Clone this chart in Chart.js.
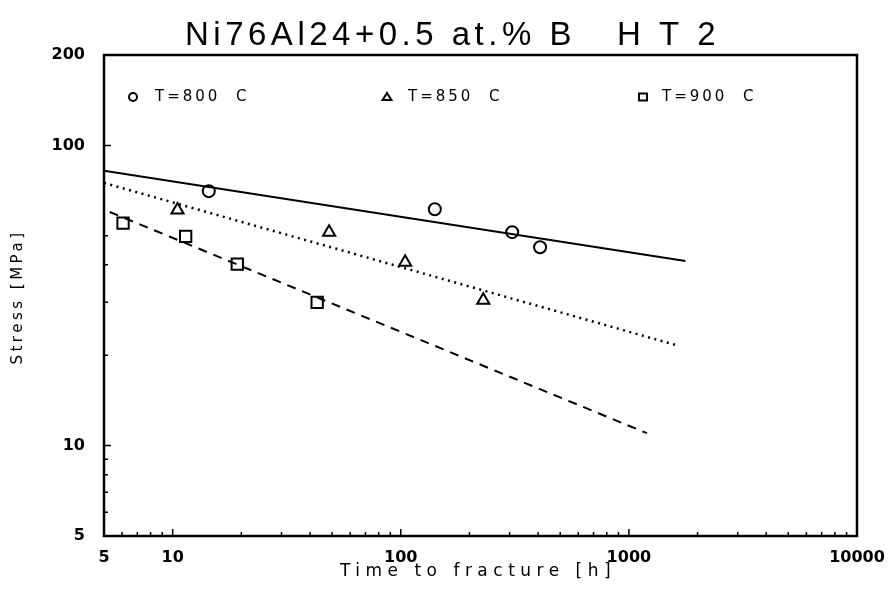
<!DOCTYPE html>
<html>
<head>
<meta charset="utf-8">
<script src="https://cdn.jsdelivr.net/npm/chart.js@4/dist/chart.umd.min.js"></script>
<style>
html, body { margin: 0; padding: 0; background: #fff; }
#wrap { width: 895px; height: 595px; }
</style>
</head>
<body>
<div id="wrap"><canvas id="chart" width="895" height="595"></canvas></div>
<script>
// Textos
const chartTitle = 'Ni76Al24+0.5 at.% B   H T 2';
const xTitle = 'Time to fracture [h]';
const yTitle = 'Stress [MPa]';
const seriesLabels = ['T=800  C', 'T=850  C', 'T=900  C'];

// Pontos medidos (tempo [h], tensao [MPa])
const time800 = [14.4, 141, 308, 408];
const stress800 = [70.4, 61.3, 51.4, 45.8];
const time850 = [10.5, 48.5, 104.5, 230];
const stress850 = [60.9, 51.4, 40.8, 30.5];
const time900 = [6.06, 11.4, 19.2, 43];
const stress900 = [55.1, 49.8, 40.2, 30.0];

// Retas ajustadas (extremos)
const fitTime800 = [5, 1770];
const fitStress800 = [82.3, 41.2];
const fitTime850 = [5, 1650];
const fitStress850 = [75, 21.5];
const fitTime900 = [5.3, 1200];
const fitStress900 = [60, 11];

// Escalas
const xTickLabels = [5, 10, 100, 1000, 10000];
const yTickLabels = [5, 10, 100, 200];
const xMajorTicks = [10, 100, 1000];
const xMinorTicks = [6, 7, 8, 9, 20, 30, 40, 50, 60, 70, 80, 90,
    200, 300, 400, 500, 600, 700, 800, 900,
    2000, 3000, 4000, 5000, 6000, 7000, 8000, 9000];
const yMajorTicks = [10, 100];
const yMinorTicks = [6, 7, 8, 9, 20, 30, 40, 50];

const toPts = (xs, ys) => xs.map((x, i) => ({ x: x, y: ys[i] }));

const markerSet = (label, xs, ys, style, radius) => ({
    label: label,
    data: toPts(xs, ys),
    showLine: false,
    pointStyle: style,
    pointRadius: radius,
    pointBorderWidth: 2,
    pointBorderColor: '#000',
    pointBackgroundColor: '#fff'
});

const fitSet = (xs, ys, dash, width) => ({
    data: toPts(xs, ys),
    showLine: true,
    borderColor: '#000',
    borderWidth: width,
    borderDash: dash,
    pointRadius: 0,
    fill: false
});

function drawMarker(ctx, style, x, y, r) {
    ctx.beginPath();
    if (style === 'circle') {
        ctx.arc(x, y, r, 0, Math.PI * 2);
    } else if (style === 'triangle') {
        ctx.moveTo(x, y - r);
        ctx.lineTo(x + r * 1.1, y + r * 0.75);
        ctx.lineTo(x - r * 1.1, y + r * 0.75);
        ctx.closePath();
    } else {
        ctx.rect(x - r, y - r * 0.85, r * 2, r * 1.7);
    }
    ctx.stroke();
}

const framePlugin = {
    id: 'frame',
    afterDraw(chart) {
        const ctx = chart.ctx;
        const a = chart.chartArea;
        const xs = chart.scales.x, ys = chart.scales.y;
        ctx.save();
        ctx.strokeStyle = '#000';
        ctx.fillStyle = '#000';

        // caixa
        ctx.lineWidth = 2.5;
        ctx.strokeRect(a.left, a.top, a.right - a.left, a.bottom - a.top);

        // marcas internas
        ctx.lineWidth = 1.5;
        ctx.beginPath();
        xMajorTicks.forEach(v => { const p = xs.getPixelForValue(v); ctx.moveTo(p, a.bottom); ctx.lineTo(p, a.bottom - 7); });
        xMinorTicks.forEach(v => { const p = xs.getPixelForValue(v); ctx.moveTo(p, a.bottom); ctx.lineTo(p, a.bottom - 4); });
        yMajorTicks.forEach(v => { const p = ys.getPixelForValue(v); ctx.moveTo(a.left, p); ctx.lineTo(a.left + 7, p); });
        yMinorTicks.forEach(v => { const p = ys.getPixelForValue(v); ctx.moveTo(a.left, p); ctx.lineTo(a.left + 4, p); });
        ctx.stroke();

        // titulo
        ctx.font = '33px "Liberation Sans"';
        ctx.letterSpacing = '4.5px';
        ctx.textAlign = 'left';
        ctx.textBaseline = 'alphabetic';
        ctx.fillText(chartTitle, 185, 45);

        // legenda
        const styles = ['circle', 'triangle', 'rect'];
        const markX = [133, 387, 643];
        const textX = [155, 408, 662];
        ctx.font = '15px "DejaVu Sans"';
        ctx.letterSpacing = '3px';
        ctx.textBaseline = 'middle';
        ctx.lineWidth = 2;
        seriesLabels.forEach((lbl, i) => {
            drawMarker(ctx, styles[i], markX[i], 97, 4);
            ctx.fillText(lbl, textX[i], 97);
        });

        // titulos dos eixos
        ctx.textAlign = 'center';
        ctx.font = '17px "DejaVu Sans"';
        ctx.letterSpacing = '5.5px';
        ctx.fillText(xTitle, 478, 572);

        ctx.translate(18, 297);
        ctx.rotate(-Math.PI / 2);
        ctx.font = '15px "DejaVu Sans"';
        ctx.letterSpacing = '3.5px';
        ctx.fillText(yTitle, 0, 0);
        ctx.restore();
    }
};

new Chart(document.getElementById('chart').getContext('2d'), {
    type: 'scatter',
    data: {
        datasets: [
            fitSet(fitTime800, fitStress800, [], 2),
            fitSet(fitTime850, fitStress850, [2, 4.5], 2.5),
            fitSet(fitTime900, fitStress900, [9, 7], 2),
            markerSet(seriesLabels[0], time800, stress800, 'circle', 6),
            markerSet(seriesLabels[1], time850, stress850, 'triangle', 7),
            markerSet(seriesLabels[2], time900, stress900, 'rect', 8)
        ]
    },
    options: {
        responsive: false,
        animation: false,
        layout: { padding: { top: 55, right: 38, left: 0, bottom: 0 } },
        plugins: {
            legend: { display: false },
            tooltip: { enabled: false }
        },
        scales: {
            x: {
                type: 'logarithmic',
                min: 5,
                max: 10000,
                grid: { display: false },
                border: { display: false },
                afterBuildTicks: s => { s.ticks = xTickLabels.map(v => ({ value: v })); },
                afterFit: s => { s.height = 59; },
                ticks: {
                    autoSkip: false,
                    maxRotation: 0,
                    padding: 4,
                    color: '#000',
                    font: { family: 'DejaVu Sans', size: 16, weight: 'bold' },
                    callback: v => String(v)
                }
            },
            y: {
                type: 'logarithmic',
                min: 5,
                max: 200,
                grid: { display: false },
                border: { display: false },
                afterBuildTicks: s => { s.ticks = yTickLabels.map(v => ({ value: v })); },
                afterFit: s => { s.width = 104; },
                ticks: {
                    autoSkip: false,
                    padding: 11,
                    color: '#000',
                    font: { family: 'DejaVu Sans', size: 16, weight: 'bold' },
                    callback: v => String(v)
                }
            }
        }
    },
    plugins: [framePlugin]
});
</script>
</body>
</html>
